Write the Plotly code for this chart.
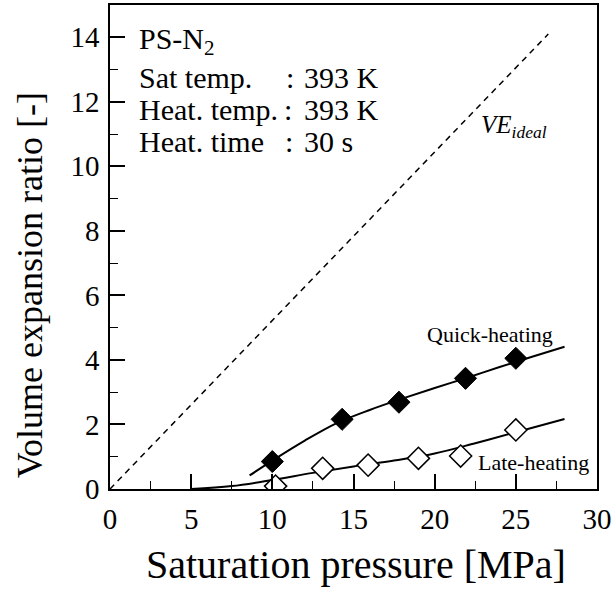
import plotly.graph_objects as go

# Measured data
quick_x = [10.0, 14.3, 17.8, 21.9, 25.0]
quick_y = [0.85, 2.16, 2.69, 3.43, 4.05]
late_x = [10.2, 13.1, 15.9, 19.0, 21.6, 25.0]
late_y = [0.09, 0.64, 0.74, 0.95, 1.02, 1.83]

# Fitted curves
quick_fit_x = [8.6, 10.0, 12.0, 14.0, 16.0, 18.0, 20.0, 22.0, 24.0, 26.0, 28.0]
quick_fit_y = [0.42, 0.88, 1.50, 2.05, 2.45, 2.80, 3.13, 3.45, 3.78, 4.10, 4.41]
late_fit_x = [5.0, 7.5, 10.0, 12.5, 15.0, 17.5, 20.0, 22.5, 25.0, 28.0]
late_fit_y = [0.0, 0.09, 0.28, 0.50, 0.70, 0.88, 1.10, 1.42, 1.76, 2.17]

# Ideal expansion line
ideal_x = [0.0, 27.0]
ideal_y = [0.0, 14.1]

x_ticks = [0, 5, 10, 15, 20, 25, 30]
y_ticks = [0, 2, 4, 6, 8, 10, 12, 14]

info_labels = ["Sat temp.", "Heat. temp.", "Heat. time"]
info_values = ["393 K", "393 K", "30 s"]

FONT = "Liberation Serif"

fig = go.Figure()
fig.add_trace(go.Scatter(x=ideal_x, y=ideal_y, mode="lines",
                         line=dict(color="black", width=1.5, dash="6px,5px"),
                         showlegend=False, hoverinfo="skip"))
fig.add_trace(go.Scatter(x=quick_fit_x, y=quick_fit_y, mode="lines",
                         line=dict(color="black", width=2, shape="spline", smoothing=1.0),
                         showlegend=False))
fig.add_trace(go.Scatter(x=late_fit_x, y=late_fit_y, mode="lines",
                         line=dict(color="black", width=2, shape="spline", smoothing=1.0),
                         showlegend=False))
fig.add_trace(go.Scatter(x=quick_x, y=quick_y, mode="markers",
                         marker=dict(symbol="diamond", size=17, color="black",
                                     line=dict(color="black", width=1)),
                         name="Quick-heating", showlegend=False))
fig.add_trace(go.Scatter(x=late_x, y=late_y, mode="markers",
                         marker=dict(symbol="diamond", size=17, color="white",
                                     line=dict(color="black", width=1.5)),
                         name="Late-heating", showlegend=False))


def axis(rng, ticks, minor_dtick):
    return dict(range=rng, tickmode="array", tickvals=ticks,
                ticktext=[str(v) for v in ticks], automargin=False,
                showgrid=False, zeroline=False, showline=True, linecolor="black",
                linewidth=1.5, mirror=True, ticks="inside", tickcolor="black",
                tickwidth=1.5, ticklen=15, ticklabelstandoff=3,
                tickfont=dict(family="Liberation Serif, serif", size=29, color="black"),
                minor=dict(ticks="inside", ticklen=8, tickwidth=1.2,
                           tickcolor="black", dtick=minor_dtick, showgrid=False))


ann = []
# axis titles
ann.append(dict(text="Saturation pressure [MPa]", xref="paper", yref="paper",
                x=0.505, y=-0.157, xanchor="center", yanchor="middle", showarrow=False,
                font=dict(family=FONT, size=40, color="black")))
ann.append(dict(text="Volume expansion ratio [-]", xref="paper", yref="paper",
                x=-0.165, y=0.42, xanchor="center", yanchor="middle", textangle=-90,
                showarrow=False, font=dict(family=FONT, size=36, color="black")))
# info block
ann.append(dict(text="PS-N<sub>2</sub>", x=1.66, y=13.88, xref="x", yref="y",
                xanchor="left", yanchor="middle", showarrow=False,
                font=dict(family=FONT, size=30, color="black")))
line_y = [12.74, 11.77, 10.78]
colon_x = [11.1, 10.95, 11.05]
val_x = [11.85, 11.85, 11.85]
for lab, val, yy, cx, vx in zip(info_labels, info_values, line_y, colon_x, val_x):
    ann.append(dict(text=lab, x=1.66, y=yy, xref="x", yref="y", xanchor="left",
                    yanchor="middle", showarrow=False,
                    font=dict(family=FONT, size=30, color="black")))
    ann.append(dict(text=":", x=cx, y=yy, xref="x", yref="y", xanchor="center",
                    yanchor="middle", showarrow=False,
                    font=dict(family=FONT, size=30, color="black")))
    ann.append(dict(text=val, x=vx, y=yy, xref="x", yref="y", xanchor="left",
                    yanchor="middle", showarrow=False,
                    font=dict(family=FONT, size=30, color="black")))
# curve labels
ann.append(dict(text="<i>VE<sub>ideal</sub></i>", x=24.9, y=11.25, xref="x", yref="y",
                xanchor="center", yanchor="middle", showarrow=False,
                font=dict(family=FONT, size=25, color="black")))
ann.append(dict(text="Quick-heating", x=23.4, y=4.8, xref="x", yref="y",
                xanchor="center", yanchor="middle", showarrow=False,
                font=dict(family=FONT, size=22, color="black")))
ann.append(dict(text="Late-heating", x=26.1, y=0.82, xref="x", yref="y",
                xanchor="center", yanchor="middle", showarrow=False,
                font=dict(family=FONT, size=22, color="black")))

fig.update_layout(width=613, height=592, margin=dict(l=110, r=16, t=5, b=103),
                  plot_bgcolor="white", paper_bgcolor="white", annotations=ann,
                  showlegend=False, font=dict(family=FONT, color="black"),
                  xaxis=axis([0, 30], x_ticks, 2.5),
                  yaxis=axis([0, 15], y_ticks, 1))

fig.write_html("out.html", config={"displayModeBar": False},
               post_script="document.body.style.margin='0px';document.body.style.overflow='hidden';")
